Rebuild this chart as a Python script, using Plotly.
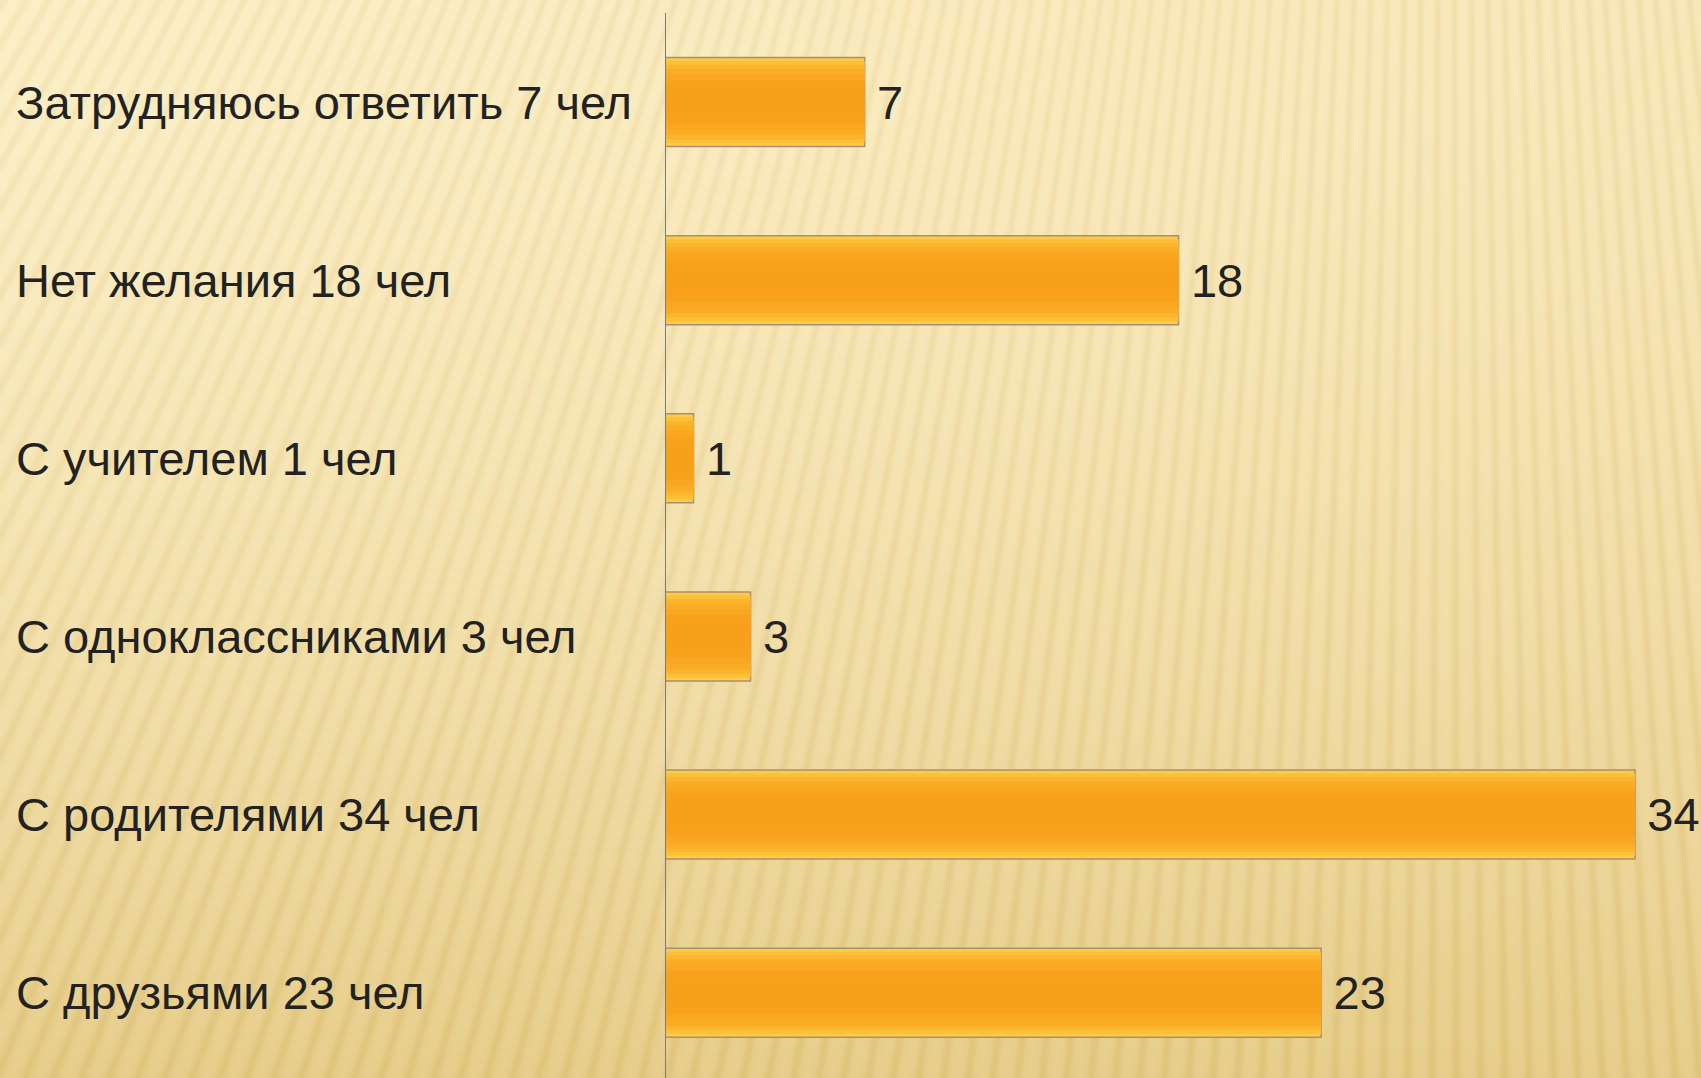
import base64, struct, zlib
import numpy as np
import plotly.graph_objects as go

# ---- data (bottom to top) ----
categories = ["С друзьями 23 чел", "С родителями 34 чел", "С одноклассниками 3 чел",
              "С учителем 1 чел", "Нет желания 18 чел", "Затрудняюсь ответить 7 чел"]
values = [23, 34, 3, 1, 18, 7]

W, H = 1701, 1078
ML, MR, MT, MB = 665, 9, 13, 0
PW, PH = W - ML - MR, H - MT - MB
FONT = "Liberation Sans, Arial, sans-serif"
FS = 47

# ---- background image (decorative gradient with soft rays) ----
def make_bg(w, h, scale):
    ys, xs = np.mgrid[0:h, 0:w].astype(float)
    X, Y = xs * scale, ys * scale
    t = np.clip(Y / H, 0, 1) ** 1.6
    top = np.array([252, 240, 200], float)
    bot = np.array([231, 206, 140], float)
    img = top[None, None, :] * (1 - t[..., None]) + bot[None, None, :] * t[..., None]
    img -= (X / W)[..., None] * np.array([4, 8, 14]) * (1 - t[..., None])
    theta = np.arctan2(X - 1450, Y + 2400)
    stripe = np.sin(theta * 900) * 0.5 + 0.5
    img -= (stripe ** 3)[..., None] * np.array([6, 10, 17])
    img = np.clip(img, 0, 255).astype(np.uint8)
    raw = b"".join(b"\x00" + img[r].tobytes() for r in range(h))
    def chunk(tag, data):
        c = struct.pack(">I", len(data)) + tag + data
        return c + struct.pack(">I", zlib.crc32(tag + data) & 0xffffffff)
    png = b"\x89PNG\r\n\x1a\n" + chunk(b"IHDR", struct.pack(">IIBBBBB", w, h, 8, 2, 0, 0, 0)) \
        + chunk(b"IDAT", zlib.compress(raw, 9)) + chunk(b"IEND", b"")
    return "data:image/png;base64," + base64.b64encode(png).decode()

bg = make_bg(851, 539, 2.0)

fig = go.Figure()

# gradient bars via layered overlay
layers = [(0.50, "#FDCB45"), (0.46, "#FCBF38"), (0.42, "#FBB52D"), (0.37, "#FAAC25"),
          (0.31, "#F9A620"), (0.24, "#F8A21C"), (0.16, "#F8A01A")]
for i, (wd, col) in enumerate(layers):
    fig.add_trace(go.Bar(
        y=categories, x=values, orientation="h", width=wd,
        marker=dict(color=col,
                    line=dict(color="#A89070" if i == 0 else col, width=1.5 if i == 0 else 0)),
        hoverinfo="skip" if i else None, showlegend=False,
        text=[f"\u2009{v}" for v in values] if i == 0 else None,
        textposition="outside" if i == 0 else "none",
        textfont=dict(family=FONT, size=FS, color="#222222"),
        cliponaxis=False,
    ))

# category labels, left aligned
for c in categories:
    fig.add_annotation(
        x=(14 - ML) / PW, xref="paper", y=c, yref="y",
        text=c, showarrow=False, xanchor="left", yanchor="middle",
        font=dict(family=FONT, size=FS, color="#222222"),
    )

fig.update_layout(
    width=W, height=H,
    margin=dict(l=ML, r=MR, t=MT, b=MB, pad=0),
    barmode="overlay",
    paper_bgcolor="#FAEBC0", plot_bgcolor="rgba(0,0,0,0)",
    showlegend=False,
    images=[dict(source=bg, xref="paper", yref="paper",
                 x=-ML / PW, y=1 + MT / PH, sizex=W / PW, sizey=H / PH,
                 xanchor="left", yanchor="top", sizing="stretch", layer="below")],
    xaxis=dict(range=[0, 36], visible=False, showgrid=False, zeroline=False, fixedrange=True),
    yaxis=dict(categoryorder="array", categoryarray=categories,
               range=[-0.479, 5.5], showticklabels=False, showgrid=False,
               zeroline=False, showline=False, ticks=""),
    shapes=[dict(type="line", xref="x", yref="paper", x0=0, x1=0, y0=0, y1=1,
                 line=dict(color="#7A7A7A", width=2), layer="above")],
)

fig.write_html("out.html", config={"displayModeBar": False},
               post_script="document.body.style.margin='0';document.body.style.overflow='hidden';")
